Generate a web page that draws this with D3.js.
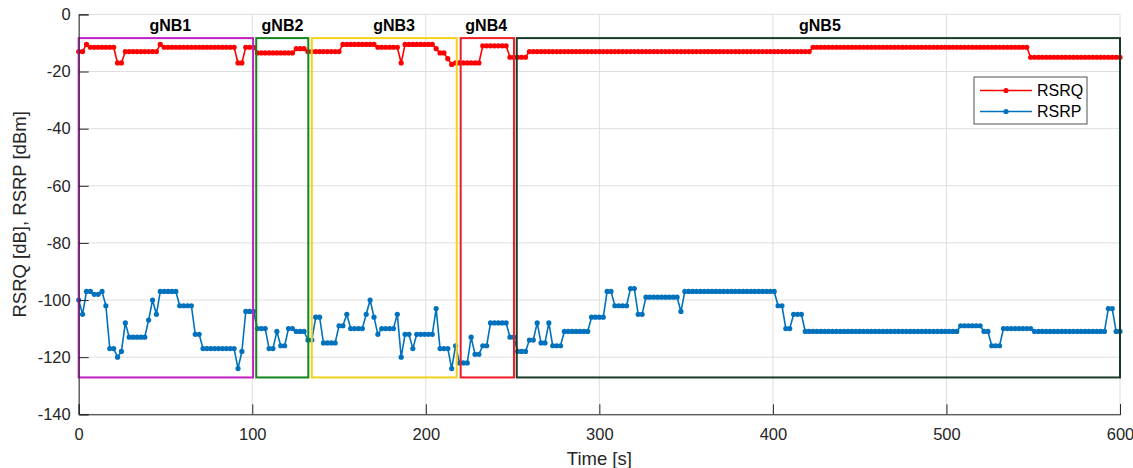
<!DOCTYPE html>
<html>
<head>
<meta charset="utf-8">
<script src="https://cdn.jsdelivr.net/npm/d3@7/dist/d3.min.js"></script>
<style>
  body { margin: 0; background: #fff; }
  text { font-family: "Liberation Sans", Arial, Helvetica, sans-serif; }
</style>
</head>
<body>
<svg id="chart" width="1133" height="468"></svg>
<script>
// Drive-test log: serving-cell RSRQ [dB] and RSRP [dBm], one sample per log interval over 600 s.
const rsrq = [
  -13, -13, -10.5, -11.5, -11.5, -11.5, -11.5, -11.5, -11.5, -11.5,
  -17, -17, -13, -13, -13, -13, -13, -13, -13, -13,
  -13, -10.5, -11.5, -11.5, -11.5, -11.5, -11.5, -11.5, -11.5, -11.5,
  -11.5, -11.5, -11.5, -11.5, -11.5, -11.5, -11.5, -11.5, -11.5, -11.5,
  -11.5, -17, -17, -11.5, -11.5, -11.5, -13.5, -13.5, -13.5, -13.5,
  -13.5, -13.5, -13.5, -13.5, -13.5, -13.5, -12, -12, -12, -13,
  -13, -13, -13, -13, -13, -13, -13, -13, -10.5, -10.5,
  -10.5, -10.5, -10.5, -10.5, -10.5, -10.5, -10.5, -11.5, -11.5, -11.5,
  -11.5, -11.5, -11.5, -17, -10.5, -10.5, -10.5, -10.5, -10.5, -10.5,
  -10.5, -10.5, -12, -13.5, -13.5, -15.5, -17.5, -17, -17, -17,
  -17, -17, -17, -17, -11, -11, -11, -11, -11, -11,
  -11, -15, -15, -15, -15, -15, -13, -13, -13, -13,
  -13, -13, -13, -13, -13, -13, -13, -13, -13, -13,
  -13, -13, -13, -13, -13, -13, -13, -13, -13, -13,
  -13, -13, -13, -13, -13, -13, -13, -13, -13, -13,
  -13, -13, -13, -13, -13, -13, -13, -13, -13, -13,
  -13, -13, -13, -13, -13, -13, -13, -13, -13, -13,
  -13, -13, -13, -13, -13, -13, -13, -13, -13, -13,
  -13, -13, -13, -13, -13, -13, -13, -13, -13, -11.5,
  -11.5, -11.5, -11.5, -11.5, -11.5, -11.5, -11.5, -11.5, -11.5, -11.5,
  -11.5, -11.5, -11.5, -11.5, -11.5, -11.5, -11.5, -11.5, -11.5, -11.5,
  -11.5, -11.5, -11.5, -11.5, -11.5, -11.5, -11.5, -11.5, -11.5, -11.5,
  -11.5, -11.5, -11.5, -11.5, -11.5, -11.5, -11.5, -11.5, -11.5, -11.5,
  -11.5, -11.5, -11.5, -11.5, -11.5, -11.5, -11.5, -11.5, -11.5, -11.5,
  -11.5, -11.5, -11.5, -11.5, -11.5, -15, -15, -15, -15, -15,
  -15, -15, -15, -15, -15, -15, -15, -15, -15, -15,
  -15, -15, -15, -15, -15, -15, -15, -15, -15
];

const rsrp = [
  -100, -105, -97, -97, -98, -98, -97, -102, -117, -117,
  -120, -118, -108, -113, -113, -113, -113, -113, -107, -100,
  -105, -97, -97, -97, -97, -97, -102, -102, -102, -102,
  -112, -112, -117, -117, -117, -117, -117, -117, -117, -117,
  -117, -124, -118, -104, -104, -104, -110, -110, -110, -117,
  -117, -111, -116, -116, -110, -110, -111, -111, -111, -114,
  -114, -106, -106, -115, -115, -115, -115, -109, -109, -105,
  -110, -110, -110, -110, -105, -100, -106, -112, -110, -110,
  -110, -110, -105, -120, -112, -112, -117, -112, -112, -112,
  -112, -112, -103, -117, -117, -117, -124, -116, -122, -122,
  -122, -113, -119, -119, -116, -116, -108, -108, -108, -108,
  -108, -113, -113, -118, -118, -118, -114, -114, -108, -115,
  -115, -108, -116, -116, -116, -111, -111, -111, -111, -111,
  -111, -111, -106, -106, -106, -106, -97, -97, -102, -102,
  -102, -102, -96, -96, -105, -105, -99, -99, -99, -99,
  -99, -99, -99, -99, -99, -104, -97, -97, -97, -97,
  -97, -97, -97, -97, -97, -97, -97, -97, -97, -97,
  -97, -97, -97, -97, -97, -97, -97, -97, -97, -97,
  -102, -102, -110, -110, -105, -105, -105, -111, -111, -111,
  -111, -111, -111, -111, -111, -111, -111, -111, -111, -111,
  -111, -111, -111, -111, -111, -111, -111, -111, -111, -111,
  -111, -111, -111, -111, -111, -111, -111, -111, -111, -111,
  -111, -111, -111, -111, -111, -111, -111, -109, -109, -109,
  -109, -109, -109, -111, -111, -116, -116, -116, -110, -110,
  -110, -110, -110, -110, -110, -110, -111, -111, -111, -111,
  -111, -111, -111, -111, -111, -111, -111, -111, -111, -111,
  -111, -111, -111, -111, -111, -103, -103, -111, -111
];

// Samples are evenly spaced from 0 s to 600 s.
const LOG_DURATION_S = 600;
const sampleTime = i => i * LOG_DURATION_S / (rsrq.length - 1);

const xTicks = [0, 100, 200, 300, 400, 500, 600];
const yTicks = [0, -20, -40, -60, -80, -100, -120, -140];

// Serving cells and the time span each one served.
const cellNames = ["gNB1", "gNB2", "gNB3", "gNB4", "gNB5"];
const cellStart = [0, 102.3, 134.3, 220.1, 252.4];
const cellEnd = [100.5, 132.3, 217.8, 250.8, 600];
const cellLabelAt = [52.8, 117.4, 181.7, 234.8, 427.1];
const cellLevelTop = -8.3;
const cellLevelBottom = -127.1;

const seriesNames = ["RSRQ", "RSRP"];

// ---- styling ----
const cellColors = ["#c020c0", "#14851c", "#f2d21a", "#ee1c25", "#1b3a25"];
const seriesColors = ["#ff0000", "#0072bd"];
const axisColor = "#262626";
const gridColor = "#dfdfdf";

const W = 1133, H = 468;
const margin = { left: 78.7, right: W - 1120, top: 14.4, bottom: H - 414.3 };

const svg = d3.select("#chart");
const x = d3.scaleLinear().domain([0, 600]).range([margin.left, W - margin.right]);
const y = d3.scaleLinear().domain([-140, 0]).range([H - margin.bottom, margin.top]);

// grid
const grid = svg.append("g");
grid.selectAll("line.gx").data(xTicks).join("line")
  .attr("x1", d => x(d)).attr("x2", d => x(d))
  .attr("y1", y(-140)).attr("y2", y(0))
  .attr("stroke", gridColor).attr("stroke-width", 1);
grid.selectAll("line.gy").data(yTicks).join("line")
  .attr("x1", x(0)).attr("x2", x(600))
  .attr("y1", d => y(d)).attr("y2", d => y(d))
  .attr("stroke", gridColor).attr("stroke-width", 1);

// series
const series = [rsrq, rsrp];
const line = d3.line().x((d, i) => x(sampleTime(i))).y(d => y(d));
series.forEach((vals, k) => {
  const g = svg.append("g");
  g.append("path").datum(vals)
    .attr("d", line)
    .attr("fill", "none")
    .attr("stroke", seriesColors[k])
    .attr("stroke-width", 1.6)
    .attr("stroke-linejoin", "round");
  g.selectAll("circle").data(vals).join("circle")
    .attr("cx", (d, i) => x(sampleTime(i)))
    .attr("cy", d => y(d))
    .attr("r", 2.6)
    .attr("fill", seriesColors[k]);
});

// serving-cell boxes
const cells = svg.append("g");
cellNames.forEach((name, k) => {
  cells.append("rect")
    .attr("x", x(cellStart[k]))
    .attr("y", y(cellLevelTop))
    .attr("width", x(cellEnd[k]) - x(cellStart[k]))
    .attr("height", y(cellLevelBottom) - y(cellLevelTop))
    .attr("fill", "none")
    .attr("stroke", cellColors[k])
    .attr("stroke-width", 2);
  cells.append("text")
    .attr("x", x(cellLabelAt[k]))
    .attr("y", 30.5)
    .attr("text-anchor", "middle")
    .attr("font-weight", "bold")
    .attr("font-size", 16)
    .attr("fill", "#000")
    .text(name);
});

// axes (ticks point inward)
const xAxis = d3.axisBottom(x).tickValues(xTicks).tickSize(-10).tickPadding(14).tickFormat(d3.format("d"));
const yAxis = d3.axisLeft(y).tickValues(yTicks).tickSize(-10).tickPadding(8).tickFormat(d => d);
const gx = svg.append("g").attr("transform", `translate(0,${y(-140)})`).call(xAxis);
const gy = svg.append("g").attr("transform", `translate(${x(0)},0)`).call(yAxis);
[gx, gy].forEach(g => {
  g.select(".domain").attr("stroke", axisColor).attr("stroke-width", 1);
  g.selectAll(".tick line").attr("stroke", axisColor);
  g.selectAll(".tick text").attr("fill", axisColor).attr("font-size", 16.5)
    .attr("font-family", '"Liberation Sans", Arial, sans-serif');
});
gx.selectAll(".tick text").attr("dy", "0.71em");

// axis titles
svg.append("text")
  .attr("x", (x(0) + x(600)) / 2).attr("y", 465)
  .attr("text-anchor", "middle").attr("font-size", 18.5).attr("fill", axisColor)
  .text("Time [s]");
svg.append("text")
  .attr("transform", `translate(26,${(y(0) + y(-140)) / 2}) rotate(-90)`)
  .attr("text-anchor", "middle").attr("font-size", 18.5).attr("fill", axisColor)
  .text("RSRQ [dB], RSRP [dBm]");

// legend
const lg = svg.append("g").attr("transform", "translate(974,77)");
lg.append("rect").attr("width", 113).attr("height", 47)
  .attr("fill", "#fff").attr("stroke", axisColor).attr("stroke-width", 0.8);
seriesNames.forEach((name, k) => {
  const yy = 13.5 + k * 21;
  lg.append("line").attr("x1", 6).attr("x2", 58).attr("y1", yy).attr("y2", yy)
    .attr("stroke", seriesColors[k]).attr("stroke-width", 1.6);
  lg.append("circle").attr("cx", 32).attr("cy", yy).attr("r", 2.6).attr("fill", seriesColors[k]);
  lg.append("text").attr("x", 63).attr("y", yy).attr("dy", "0.35em")
    .attr("font-size", 16).attr("fill", "#000").text(name);
});
</script>
</body>
</html>
